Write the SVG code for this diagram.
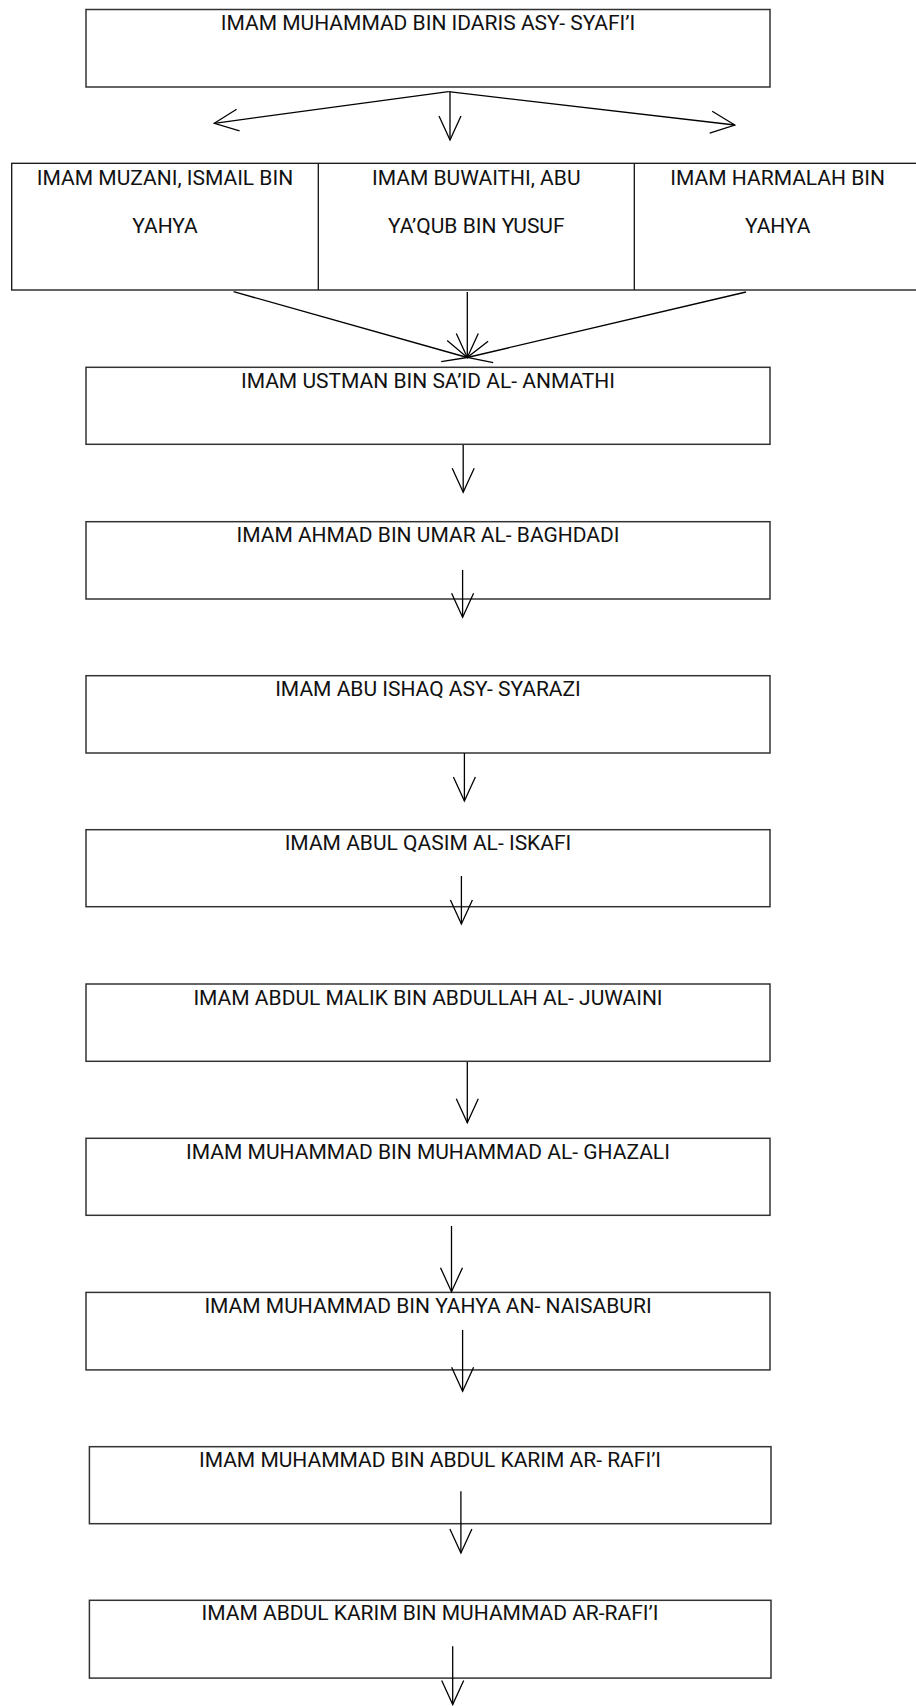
<svg xmlns="http://www.w3.org/2000/svg" width="916" height="1706" viewBox="0 0 916 1706">
<style>
.box{fill:#fff;stroke:#333;stroke-width:1.5}
.row{fill:#fff;stroke:#111;stroke-width:1.3}
.t{font-family:Roboto,"Liberation Sans",sans-serif;font-size:21px;fill:#111;text-anchor:middle}
.c{fill:none;stroke:#000;stroke-width:1.3;marker-end:url(#open)}
</style>
<defs>
<marker id="open" viewBox="-26 -13 28 26" refX="0" refY="0" markerWidth="28" markerHeight="26" markerUnits="userSpaceOnUse" orient="auto" overflow="visible">
<path d="M-24,-11 L0,0 L-24,11" fill="none" stroke="#000" stroke-width="1.3"/>
</marker>
</defs>
<rect width="916" height="1706" fill="#fff"/>
<g id="n-syafii"><rect class="box" x="86" y="9.5" width="684" height="77.5"/><text class="t" x="428" y="30">IMAM MUHAMMAD BIN IDARIS ASY- SYAFI’I</text></g>
<g id="n-row">
<rect class="row" x="11.7" y="163.3" width="910" height="126.7"/>
<line x1="318.3" y1="163.3" x2="318.3" y2="290" stroke="#111" stroke-width="1.3"/>
<line x1="634.3" y1="163.3" x2="634.3" y2="290" stroke="#111" stroke-width="1.3"/>
</g>
<g id="n-muzani"><text class="t" x="165" y="185">IMAM MUZANI, ISMAIL BIN</text><text class="t" x="165" y="233">YAHYA</text></g>
<g id="n-buwaithi"><text class="t" x="476.3" y="185">IMAM BUWAITHI, ABU</text><text class="t" x="476.3" y="233">YA’QUB BIN YUSUF</text></g>
<g id="n-harmalah"><text class="t" x="777.7" y="185">IMAM HARMALAH BIN</text><text class="t" x="777.7" y="233">YAHYA</text></g>
<g id="n-ustman"><rect class="box" x="86" y="367.3" width="684" height="77"/><text class="t" x="428" y="387.5">IMAM USTMAN BIN SA’ID AL- ANMATHI</text></g>
<g id="n-ahmad"><rect class="box" x="86" y="521.7" width="684" height="77.3"/><text class="t" x="428" y="542">IMAM AHMAD BIN UMAR AL- BAGHDADI</text></g>
<g id="n-abuishaq"><rect class="box" x="86" y="675.7" width="684" height="77.3"/><text class="t" x="428" y="696">IMAM ABU ISHAQ ASY- SYARAZI</text></g>
<g id="n-abulqasim"><rect class="box" x="86" y="829.7" width="684" height="77"/><text class="t" x="428" y="850">IMAM ABUL QASIM AL- ISKAFI</text></g>
<g id="n-juwaini"><rect class="box" x="86" y="984" width="684" height="77.3"/><text class="t" x="428" y="1004.5">IMAM ABDUL MALIK BIN ABDULLAH AL- JUWAINI</text></g>
<g id="n-ghazali"><rect class="box" x="86" y="1138.3" width="684" height="77"/><text class="t" x="428" y="1158.5">IMAM MUHAMMAD BIN MUHAMMAD AL- GHAZALI</text></g>
<g id="n-naisaburi"><rect class="box" x="86" y="1292.4" width="684" height="77.5"/><text class="t" x="428" y="1312.7">IMAM MUHAMMAD BIN YAHYA AN- NAISABURI</text></g>
<g id="n-rafii1"><rect class="box" x="89.4" y="1446.7" width="681.6" height="77"/><text class="t" x="430" y="1467">IMAM MUHAMMAD BIN ABDUL KARIM AR- RAFI’I</text></g>
<g id="n-rafii2"><rect class="box" x="89.4" y="1600.3" width="681.6" height="77.8"/><text class="t" x="430" y="1620.3">IMAM ABDUL KARIM BIN MUHAMMAD AR-RAFI’I</text></g>
<g id="connectors">
<line class="c" x1="448.5" y1="91.7" x2="214.3" y2="123.3"/>
<line class="c" x1="450" y1="91.7" x2="450" y2="140"/>
<line class="c" x1="448.5" y1="91.7" x2="734.8" y2="125"/>
<line class="c" x1="233.6" y1="291.7" x2="467.3" y2="357.5"/>
<line class="c" x1="467.3" y1="292" x2="467.3" y2="357.5"/>
<line class="c" x1="746" y1="292" x2="467.3" y2="357.5"/>
<line class="c" x1="463.2" y1="445" x2="463.2" y2="492.3"/>
<line class="c" x1="462.6" y1="570" x2="462.6" y2="617.3"/>
<line class="c" x1="464.4" y1="753" x2="464.4" y2="801"/>
<line class="c" x1="461.4" y1="876" x2="461.4" y2="924"/>
<line class="c" x1="467.3" y1="1062" x2="467.3" y2="1122.7"/>
<line class="c" x1="451.5" y1="1226" x2="451.5" y2="1291.7"/>
<line class="c" x1="462.6" y1="1330" x2="462.6" y2="1391.3"/>
<line class="c" x1="460.9" y1="1491.3" x2="460.9" y2="1553"/>
<line class="c" x1="452.7" y1="1646.3" x2="452.7" y2="1704.5"/>
</g>
</svg>
